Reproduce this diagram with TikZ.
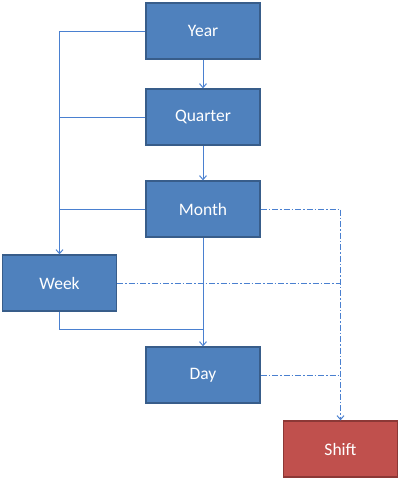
\documentclass[tikz,border=0pt]{standalone}
\usepackage{fontspec}
\setmainfont{Carlito}
\usepackage{tikz}
\usetikzlibrary{positioning, arrows.meta, calc}

\definecolor{boxblue}{HTML}{4F81BD}
\definecolor{boxblueline}{HTML}{385D8A}
\definecolor{boxred}{HTML}{C0504D}
\definecolor{boxredline}{HTML}{8C3836}
\definecolor{linkblue}{HTML}{4A80D0}

\begin{document}
\begin{tikzpicture}[
  x=1pt, y=-1pt,
  font=\fontsize{17.5}{20}\selectfont,
  level/.style={draw=#1line, fill=#1, line width=1.3pt, text=white,
    minimum width=114pt, minimum height=56pt, inner sep=0pt},
  arr/.style={-{Straight Barb[length=4pt, width=7pt]}, draw=linkblue, line width=1pt},
  lnk/.style={draw=linkblue, line width=1pt},
  dlnk/.style={draw=linkblue, line width=1pt, dash pattern=on 6pt off 2pt on 1.5pt off 2pt}
]
  \useasboundingbox (0,0) rectangle (400,480);

  % Hijerarhija razina
  \node[level=boxblue] (year) at (203, 31) {Year};
  \node[level=boxblue] (quarter) at (203, 117) {Quarter};
  \node[level=boxblue] (month) at (203, 209) {Month};
  \node[level=boxblue] (week) at (59.5, 283) {Week};
  \node[level=boxblue] (day) at (203, 375) {Day};
  \node[level=boxred] (shift) at (340.5, 449) {Shift};

  % Pomocne tocke
  \coordinate (wk) at (59.5, 31);
  \coordinate (jd) at (203, 329);
  \coordinate (sc) at (340.5, 209);

  % Pune poveznice
  \draw[arr] (year) -- (quarter);
  \draw[arr] (quarter) -- (month);
  \draw[arr] (month) -- (day);
  \draw[arr] (year.west) -- (wk) -- (week.north);
  \draw[lnk] (quarter.west) -- (quarter.west -| wk);
  \draw[lnk] (month.west) -- (month.west -| wk);
  \draw[lnk] (week.south) |- (jd);

  % Isprekidane poveznice
  \draw[dlnk, -{Straight Barb[length=4pt, width=7pt]}] (month.east) -- (sc) -- (shift.north);
  \draw[dlnk] (week.east) -- (week.east -| sc);
  \draw[dlnk] (day.east) -- (day.east -| sc);
\end{tikzpicture}
\end{document}
